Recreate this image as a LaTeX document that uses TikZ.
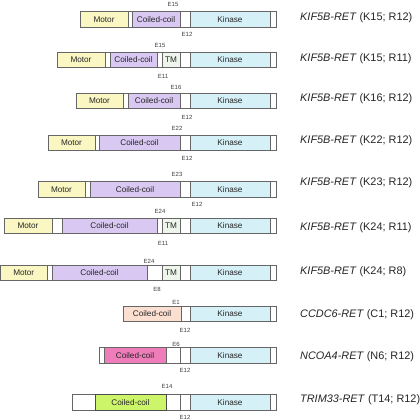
\documentclass[tikz,border=0pt]{standalone}
\usepackage{fontspec}
\setmainfont{Liberation Sans}
\definecolor{motor}{HTML}{FAF7C3}
\definecolor{cc}{HTML}{D9C8F2}
\definecolor{tm}{HTML}{EEF6EC}
\definecolor{kin}{HTML}{D6F0F7}
\definecolor{peach}{HTML}{FBE0D2}
\definecolor{pinkcc}{HTML}{EE7DB9}
\definecolor{limecc}{HTML}{CDF56A}
\definecolor{edge}{HTML}{666666}
\tikzset{
 seg/.style={draw=edge, line width=0.6pt, rectangle, inner sep=0pt, outer sep=0pt,
   minimum height=15.5pt, anchor=west, font=\fontsize{8.2}{9}\selectfont, text=black!85},
 exon/.style={font=\fontsize{6}{7}\selectfont, text=black!75, inner sep=0pt},
 fusion/.style={anchor=west, font=\fontsize{10.9}{12}\selectfont, text=black!85, inner sep=0pt}
}
\newcommand\seg[6]{\node[seg, fill=#5, minimum width={(#3-#2)*1pt}] (#1) at (#2,#4) {#6};}
\begin{document}
\begin{tikzpicture}[x=1pt,y=-1pt]
\useasboundingbox[fill=white] (0,0) rectangle (420,420);
% Row 1
\seg{aM}{80}{128}{19.5}{motor}{Motor}
\seg{aW1}{128}{132}{19.5}{white}{}
\seg{aC}{132}{180}{19.5}{cc}{Coiled-coil}
\seg{aW2}{180}{190}{19.5}{white}{}
\seg{aK}{190}{270}{19.5}{kin}{Kinase}
\seg{aE}{270}{276}{19.5}{white}{}
\node[exon] (aX1) at (173,4) {E15};
\node[exon] (aX2) at (187,34) {E12};
\node[fusion] (aL) at (300,18) {\textit{KIF5B-RET} (K15; R12)};
% Row 2
\seg{bM}{57}{105}{60}{motor}{Motor}
\seg{bW1}{105}{110}{60}{white}{}
\seg{bC}{110}{157}{60}{cc}{Coiled-coil}
\seg{bW2}{157}{162}{60}{white}{}
\seg{bT}{162}{180}{60}{tm}{TM}
\seg{bW3}{180}{190}{60}{white}{}
\seg{bK}{190}{270}{60}{kin}{Kinase}
\seg{bE}{270}{276}{60}{white}{}
\node[exon] (bX1) at (160,45) {E15};
\node[exon] (bX2) at (163,76) {E11};
\node[fusion] (bL) at (300,59) {\textit{KIF5B-RET} (K15; R11)};
% Row 3
\seg{cM}{76}{123}{101}{motor}{Motor}
\seg{cW1}{123}{128}{101}{white}{}
\seg{cC}{128}{180}{101}{cc}{Coiled-coil}
\seg{cW2}{180}{190}{101}{white}{}
\seg{cK}{190}{270}{101}{kin}{Kinase}
\seg{cE}{270}{276}{101}{white}{}
\node[exon] (cX1) at (176,87) {E16};
\node[exon] (cX2) at (187,117) {E12};
\node[fusion] (cL) at (300,99) {\textit{KIF5B-RET} (K16; R12)};
% Row 4
\seg{dM}{48}{95}{143}{motor}{Motor}
\seg{dW1}{95}{99}{143}{white}{}
\seg{dC}{99}{180}{143}{cc}{Coiled-coil}
\seg{dW2}{180}{190}{143}{white}{}
\seg{dK}{190}{270}{143}{kin}{Kinase}
\seg{dE}{270}{276}{143}{white}{}
\node[exon] (dX1) at (177,128) {E22};
\node[exon] (dX2) at (187,158) {E12};
\node[fusion] (dL) at (300,141) {\textit{KIF5B-RET} (K22; R12)};
% Row 5
\seg{eM}{38}{85}{189.5}{motor}{Motor}
\seg{eW1}{85}{90}{189.5}{white}{}
\seg{eC}{90}{180}{189.5}{cc}{Coiled-coil}
\seg{eW2}{180}{190}{189.5}{white}{}
\seg{eK}{190}{270}{189.5}{kin}{Kinase}
\seg{eE}{270}{276}{189.5}{white}{}
\node[exon] (eX1) at (177,174) {E23};
\node[exon] (eX2) at (197,204) {E12};
\node[fusion] (eL) at (300,183) {\textit{KIF5B-RET} (K23; R12)};
% Row 6
\seg{fM}{4}{52}{226}{motor}{Motor}
\seg{fW1}{52}{62}{226}{white}{}
\seg{fC}{62}{157}{226}{cc}{Coiled-coil}
\seg{fW2}{157}{162}{226}{white}{}
\seg{fT}{162}{180}{226}{tm}{TM}
\seg{fW3}{180}{190}{226}{white}{}
\seg{fK}{190}{270}{226}{kin}{Kinase}
\seg{fE}{270}{276}{226}{white}{}
\node[exon] (fX1) at (160,211) {E24};
\node[exon] (fX2) at (163,243) {E11};
\node[fusion] (fL) at (300,228) {\textit{KIF5B-RET} (K24; R11)};
% Row 7
\seg{gM}{0.5}{47}{273}{motor}{Motor}
\seg{gW1}{47}{52}{273}{white}{}
\seg{gC}{52}{147}{273}{cc}{Coiled-coil}
\seg{gW2}{147}{162}{273}{white}{}
\seg{gT}{162}{180}{273}{tm}{TM}
\seg{gW3}{180}{190}{273}{white}{}
\seg{gK}{190}{270}{273}{kin}{Kinase}
\seg{gE}{270}{276}{273}{white}{}
\node[exon] (gX1) at (149,261) {E24};
\node[exon] (gX2) at (157,289) {E8};
\node[fusion] (gL) at (300,272) {\textit{KIF5B-RET} (K24; R8)};
% Row 8
\seg{hC}{123}{181}{314}{peach}{Coiled-coil}
\seg{hW1}{181}{190}{314}{white}{}
\seg{hK}{190}{270}{314}{kin}{Kinase}
\seg{hE}{270}{276}{314}{white}{}
\node[exon] (hX1) at (176,302) {E1};
\node[exon] (hX2) at (185,330) {E12};
\node[fusion] (hL) at (300,315) {\textit{CCDC6-RET} (C1; R12)};
% Row 9
\seg{iW0}{99}{104}{355.5}{white}{}
\seg{iC}{104}{166}{355.5}{pinkcc}{Coiled-coil}
\seg{iW1}{166}{180}{355.5}{white}{}
\seg{iW2}{180}{190}{355.5}{white}{}
\seg{iK}{190}{270}{355.5}{kin}{Kinase}
\seg{iE}{270}{276}{355.5}{white}{}
\node[exon] (iX1) at (176,344) {E6};
\node[exon] (iX2) at (185,370) {E12};
\node[fusion] (iL) at (300,357) {\textit{NCOA4-RET} (N6; R12)};
% Row 10
\seg{jW0}{72}{95}{402.5}{white}{}
\seg{jW1}{166}{180}{402.5}{white}{}
\seg{jW2}{180}{190}{402.5}{white}{}
\seg{jK}{190}{270}{402.5}{kin}{Kinase}
\seg{jE}{270}{276}{402.5}{white}{}
\node[seg, fill=limecc, draw=black!70, line width=1pt, minimum width=71pt] (jC) at (95,402.5) {Coiled-coil};
\node[exon] (jX1) at (167,386) {E14};
\node[exon] (jX2) at (185,417) {E12};
\node[fusion] (jL) at (300,400) {\textit{TRIM33-RET} (T14; R12)};
\end{tikzpicture}
\end{document}
